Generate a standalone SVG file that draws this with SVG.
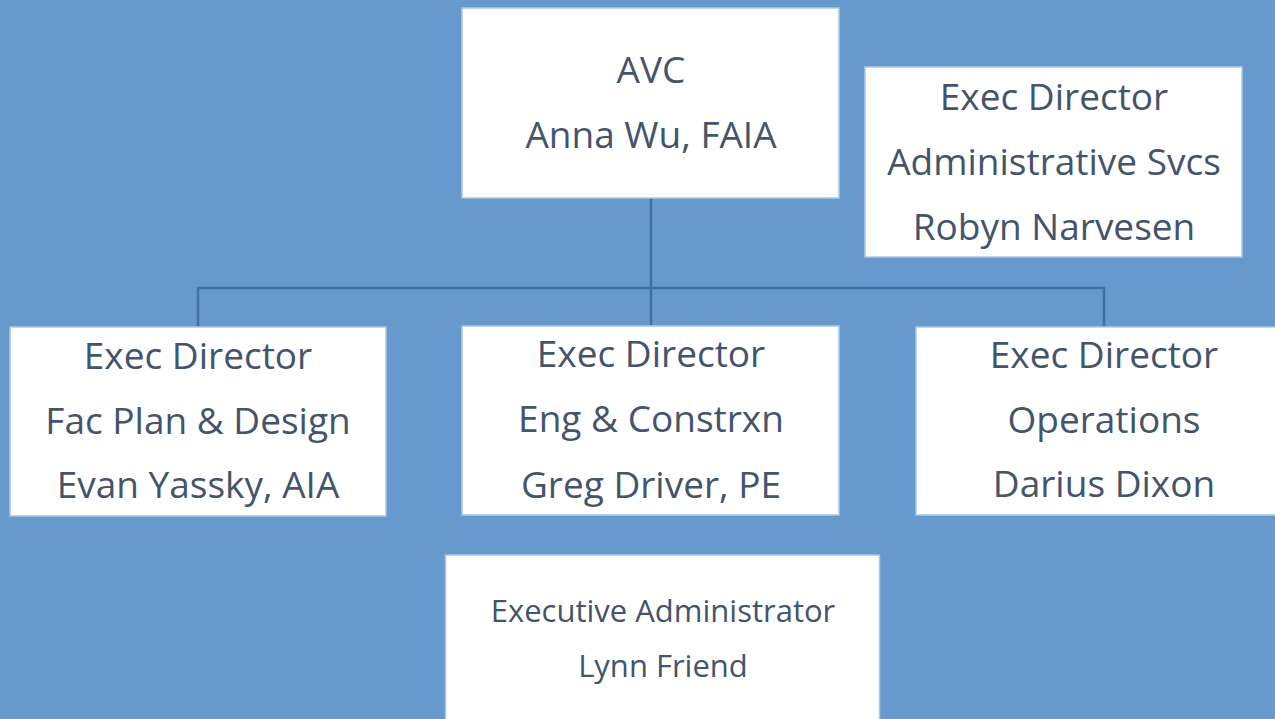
<svg xmlns="http://www.w3.org/2000/svg" width="1275" height="719" viewBox="0 0 1275 719">
<style>
.box{fill:#ffffff;stroke:#a9c8ea;stroke-width:1.5}
.t{font-family:"Open Sans","Noto Sans",sans-serif;font-size:37px;fill:#44546a;text-anchor:middle}
.s{font-family:"Open Sans","Noto Sans",sans-serif;font-size:31px;fill:#44546a;text-anchor:middle}
.c{fill:none;stroke:#41719c;stroke-width:2.5}
</style>
<rect width="1275" height="719" fill="#6699cc"/>
<g id="connectors">
<path class="c" d="M651 198V327M198 327V288H1104V327"/>
</g>
<g id="avc">
<rect class="box" x="462" y="8" width="377" height="190"/>
<text class="t" x="651" y="83">AVC</text>
<text class="t" x="651" y="148">Anna Wu, FAIA</text>
</g>
<g id="admin-svcs">
<rect class="box" x="865" y="67" width="377" height="190"/>
<text class="t" x="1054" y="110">Exec Director</text>
<text class="t" x="1054" y="175">Administrative Svcs</text>
<text class="t" x="1054" y="240">Robyn Narvesen</text>
</g>
<g id="fac-plan">
<rect class="box" x="10" y="327" width="376" height="189"/>
<text class="t" x="198" y="369">Exec Director</text>
<text class="t" x="198" y="434">Fac Plan &amp; Design</text>
<text class="t" x="198" y="498">Evan Yassky, AIA</text>
</g>
<g id="eng-constrxn">
<rect class="box" x="462" y="326" width="377" height="189"/>
<text class="t" x="651" y="367">Exec Director</text>
<text class="t" x="651" y="432">Eng &amp; Constrxn</text>
<text class="t" x="651" y="498">Greg Driver, PE</text>
</g>
<g id="operations">
<rect class="box" x="916" y="327" width="370" height="188"/>
<text class="t" x="1104" y="368">Exec Director</text>
<text class="t" x="1104" y="433">Operations</text>
<text class="t" x="1104" y="497">Darius Dixon</text>
</g>
<g id="exec-admin">
<rect class="box" x="445.5" y="555" width="434" height="180"/>
<text class="s" x="663" y="622">Executive Administrator</text>
<text class="s" x="663" y="677">Lynn Friend</text>
</g>
</svg>
